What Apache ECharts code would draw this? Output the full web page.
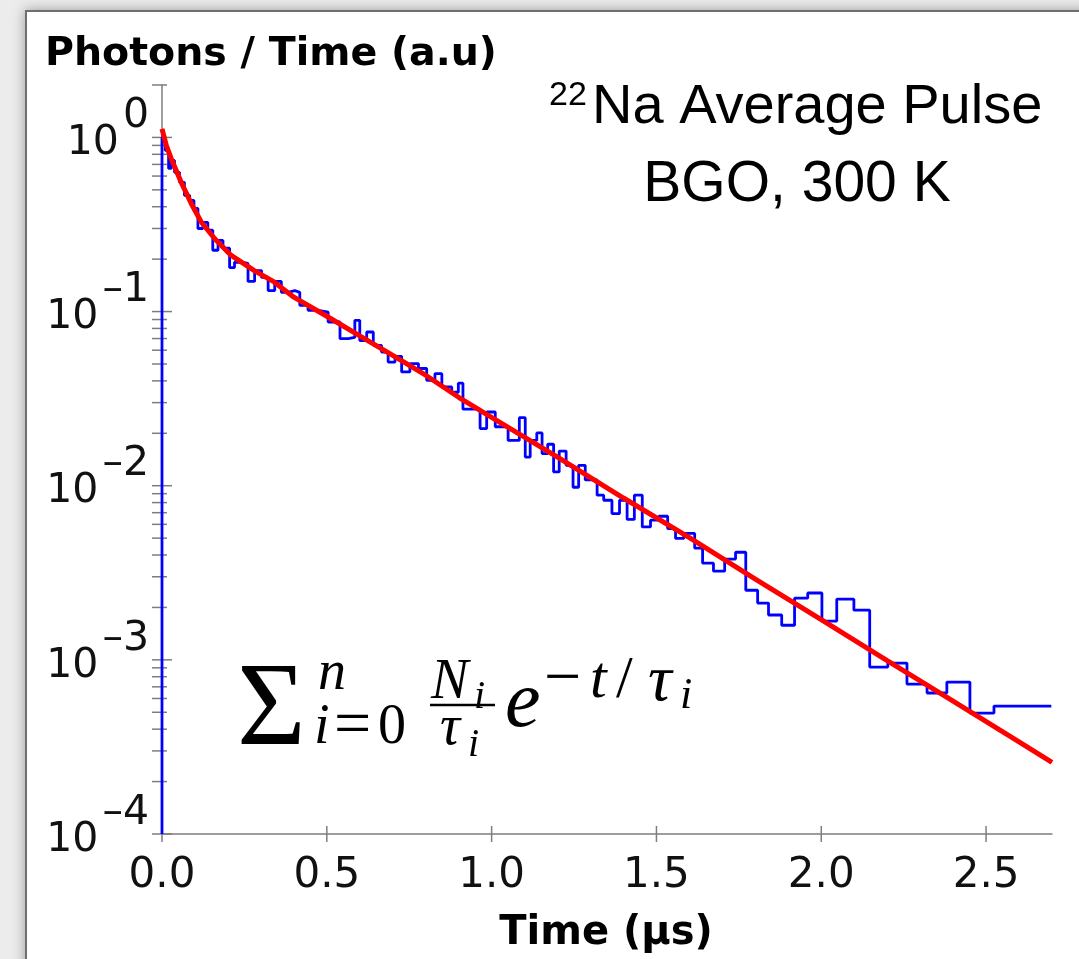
<!DOCTYPE html>
<html>
<head>
<meta charset="utf-8">
<title>22Na Average Pulse - BGO 300 K</title>
<script src="https://cdn.jsdelivr.net/npm/echarts@6.0.0/dist/echarts.min.js"></script>
<style>
  html, body { margin: 0; padding: 0; background: #ececec; overflow: hidden; }
  #frame { position: absolute; left: 25px; top: 10px; width: 1200px; height: 1100px;
           background: #fff; border: 2px solid #6e6e6e; box-shadow: 0 0 12px rgba(0,0,0,0.35); }
  #chart { position: absolute; left: 0; top: 0; width: 1079px; height: 959px; }
</style>
</head>
<body>
<div id="frame"></div>
<div id="chart"></div>
<script>
// histogram bin edges (µs) and contents (a.u.)
var histEdges = [
  0, 0.010, 0.020, 0.028, 0.038, 0.053, 0.068, 0.084, 0.097, 0.109,
  0.124, 0.139, 0.154, 0.170, 0.185, 0.205, 0.220, 0.241, 0.261, 0.281,
  0.302, 0.322, 0.342, 0.362, 0.382, 0.403, 0.418, 0.443, 0.474, 0.504,
  0.540, 0.565, 0.585, 0.600, 0.621, 0.641, 0.666, 0.686, 0.707, 0.727,
  0.752, 0.778, 0.803, 0.828, 0.849, 0.879, 0.899, 0.913, 0.965, 0.985,
  1.011, 1.050, 1.084, 1.102, 1.117, 1.137, 1.153, 1.170, 1.188, 1.205,
  1.226, 1.247, 1.264, 1.284, 1.320, 1.340, 1.365, 1.388, 1.411, 1.433,
  1.457, 1.482, 1.507, 1.534, 1.558, 1.583, 1.616, 1.640, 1.673, 1.707,
  1.740, 1.771, 1.807, 1.840, 1.880, 1.919, 1.959, 2.002, 2.047, 2.099,
  2.147, 2.202, 2.260, 2.321, 2.381, 2.451, 2.524, 2.698
]
var histValues = [
  1.00, 0.842, 0.664, 0.738, 0.630, 0.552, 0.465, 0.435, 0.391, 0.300,
  0.325, 0.293, 0.225, 0.256, 0.231, 0.179, 0.192, 0.189, 0.149, 0.172,
  0.157, 0.132, 0.149, 0.129, 0.132, 0.129, 0.1086, 0.1017, 0.0994, 0.0871,
  0.0699, 0.0712, 0.0891, 0.0682, 0.0763, 0.0640, 0.0586, 0.0513, 0.0553, 0.0450,
  0.0503, 0.0471, 0.0403, 0.0440, 0.0369, 0.0344, 0.0388, 0.0275, 0.0213, 0.0265,
  0.0218, 0.0182, 0.0246, 0.0146, 0.0182, 0.0201, 0.0153, 0.0173, 0.0120, 0.0158,
  0.0131, 0.0098, 0.0131, 0.0108, 0.00882, 0.00825, 0.00692, 0.00825, 0.00640, 0.00882,
  0.00580, 0.00634, 0.00668, 0.00568, 0.00498, 0.00532, 0.00438, 0.00359, 0.00323, 0.00379,
  0.00415, 0.00251, 0.00212, 0.00181, 0.00158, 0.00226, 0.00242, 0.00167, 0.00223, 0.00193,
  0.000909, 0.000958, 0.000726, 0.000645, 0.000745, 0.000495, 0.000543
]

// multi-exponential fit (red curve)
var fitTime = [0, 0.013, 0.028, 0.058, 0.089, 0.119, 0.16, 0.21, 0.28, 0.34, 0.40,
  0.5, 0.6, 0.7, 0.8, 0.9, 1.0, 1.2, 1.4, 1.6, 1.8, 2.0, 2.2, 2.4, 2.6, 2.7]
var fitValue = [1.12, 0.90, 0.755, 0.554, 0.416, 0.327, 0.262, 0.21, 0.172, 0.148, 0.121,
  0.094, 0.0726, 0.056, 0.0431, 0.0322, 0.0247, 0.0146, 0.0085, 0.00503, 0.00291,
  0.0017, 0.00099, 0.00058, 0.000338, 0.000258]

// axis ticks
var xTicks = [0, 0.5, 1.0, 1.5, 2.0, 2.5]
var yDecades = [1e-4, 1e-3, 1e-2, 1e-1, 1]
var yMinor = [2, 3, 4, 5, 6, 7, 8, 9]

var histData = [[0, 1e-4]]
for (var i = 0; i < histValues.length; i++) {
  histData.push([histEdges[i], histValues[i]])
}
histData.push([histEdges[histEdges.length - 1], histValues[histValues.length - 1]])

var fitData = fitTime.map(function (t, i) { return [t, fitValue[i]] })

var yTickData = []
yDecades.forEach(function (d) {
  yTickData.push([0, d, 1])
  if (d < 1) {
    yMinor.forEach(function (m) { yTickData.push([0, d * m, 0]) })
  }
})
yTickData.push([0, 2, 0])   // top end of the axis
var xTickData = xTicks.map(function (t) { return [t, 1e-4] })

var tickColor = '#7d7d7d'
var labelFont = "'DejaVu Sans', sans-serif"
var mathFont = "'Liberation Serif', 'DejaVu Serif', serif"

function mathText (x, y, s, size, italic) {
  return {
    type: 'text', x: x, y: y, silent: true,
    style: { text: s, fontFamily: mathFont, fontSize: size, fontStyle: italic ? 'italic' : 'normal',
             fill: '#000', align: 'left', verticalAlign: 'middle' }
  }
}

var chart = echarts.init(document.getElementById('chart'), null, { renderer: 'canvas' })
chart.setOption({
  animation: false,
  grid: { left: 162, right: 27, top: 85, bottom: 125, containLabel: false },
  xAxis: {
    type: 'value', min: 0, max: 2.7, interval: 0.5,
    axisLine: { show: true, onZero: false, lineStyle: { color: tickColor, width: 1.5 } },
    axisTick: { show: false },
    splitLine: { show: false },
    axisLabel: {
      margin: 21, color: '#111', fontFamily: labelFont, fontSize: 42,
      formatter: function (v) { return v > 2.6 ? '' : v.toFixed(1) }
    }
  },
  yAxis: {
    type: 'log', logBase: 10, min: 1e-4, max: 2,
    axisLine: { show: true, lineStyle: { color: tickColor, width: 1.5 } },
    axisTick: { show: false },
    splitLine: { show: false },
    axisLabel: {
      margin: 13,
      formatter: function (v) {
        var e = Math.log10(v)
        if (Math.abs(e - Math.round(e)) > 1e-6) return ''
        e = Math.round(e)
        return '{b|10}{e|' + (e < 0 ? '–' + (-e) : '' + e) + '}'
      },
      rich: {
        b: { fontFamily: labelFont, fontSize: 41, color: '#111', padding: [12, 0, 0, 0] },
        e: { fontFamily: labelFont, fontSize: 41, color: '#111', padding: [0, 0, 42, 4] }
      }
    }
  },
  series: [
    {
      // y ticks: majors cross the axis, minors at 2..9 of each decade
      type: 'custom', silent: true, data: yTickData,
      renderItem: function (params, api) {
        var p = api.coord([api.value(0), api.value(1)])
        var major = api.value(2) === 1
        return {
          type: 'line',
          shape: { x1: p[0] - 10, y1: p[1], x2: p[0] + (major ? 10 : 5), y2: p[1] },
          style: { stroke: tickColor, lineWidth: 1.5 }
        }
      }
    },
    {
      type: 'custom', silent: true, data: xTickData,
      renderItem: function (params, api) {
        var p = api.coord([api.value(0), api.value(1)])
        return {
          type: 'line',
          shape: { x1: p[0], y1: p[1] - 8, x2: p[0], y2: p[1] + 8 },
          style: { stroke: tickColor, lineWidth: 1.5 }
        }
      }
    },
    {
      name: 'data', type: 'line', step: 'end', data: histData,
      symbol: 'none', silent: true,
      lineStyle: { color: '#0000ff', width: 2.8 }
    },
    {
      name: 'fit', type: 'line', data: fitData, smooth: false,
      symbol: 'none', silent: true,
      lineStyle: { color: '#ff0000', width: 5 }
    }
  ],
  graphic: [
    {
      type: 'text', x: 45, y: 55, silent: true,
      style: { text: 'Photons / Time (a.u)', fontFamily: labelFont, fontWeight: 'bold', fontSize: 39.5,
               fill: '#000', align: 'left', verticalAlign: 'middle' }
    },
    {
      type: 'text', x: 606, y: 934, silent: true,
      style: { text: 'Time (µs)', fontFamily: labelFont, fontWeight: 'bold', fontSize: 40,
               fill: '#000', align: 'center', verticalAlign: 'middle' }
    },
    {
      type: 'text', x: 549, y: 96, silent: true,
      style: { text: '22', fontFamily: "'Liberation Sans', sans-serif", fontSize: 34,
               fill: '#000', align: 'left', verticalAlign: 'middle' }
    },
    {
      type: 'text', x: 592, y: 108, silent: true,
      style: { text: 'Na Average Pulse', fontFamily: "'Liberation Sans', sans-serif", fontSize: 56,
               fill: '#000', align: 'left', verticalAlign: 'middle' }
    },
    {
      type: 'text', x: 797, y: 185, silent: true,
      style: { text: 'BGO, 300 K', fontFamily: "'Liberation Sans', sans-serif", fontSize: 57,
               fill: '#000', align: 'center', verticalAlign: 'middle' }
    },
    // sum_{i=0}^{n} N_i/tau_i e^{-t/tau_i}
    mathText(237, 713, 'Σ', 118, false),
    mathText(318, 674, 'n', 56, true),
    mathText(314, 728, 'i', 56, true),
    mathText(334, 728, '=', 66, false),
    mathText(378, 728, '0', 56, false),
    mathText(431, 683, 'N', 56, true),
    mathText(474, 697, 'i', 40, true),
    {
      type: 'line', silent: true,
      shape: { x1: 430, y1: 705, x2: 495, y2: 705 },
      style: { stroke: '#000', lineWidth: 2.5 }
    },
    mathText(440, 729, 'τ', 56, true),
    mathText(468, 745, 'i', 40, true),
    mathText(505, 705, 'e', 80, true),
    mathText(544, 681, '−', 66, false),
    mathText(590, 681, 't', 60, true),
    mathText(616, 681, '/', 60, false),
    mathText(648, 683, 'τ', 66, true),
    mathText(680, 696, 'i', 44, true)
  ]
})
</script>
</body>
</html>
